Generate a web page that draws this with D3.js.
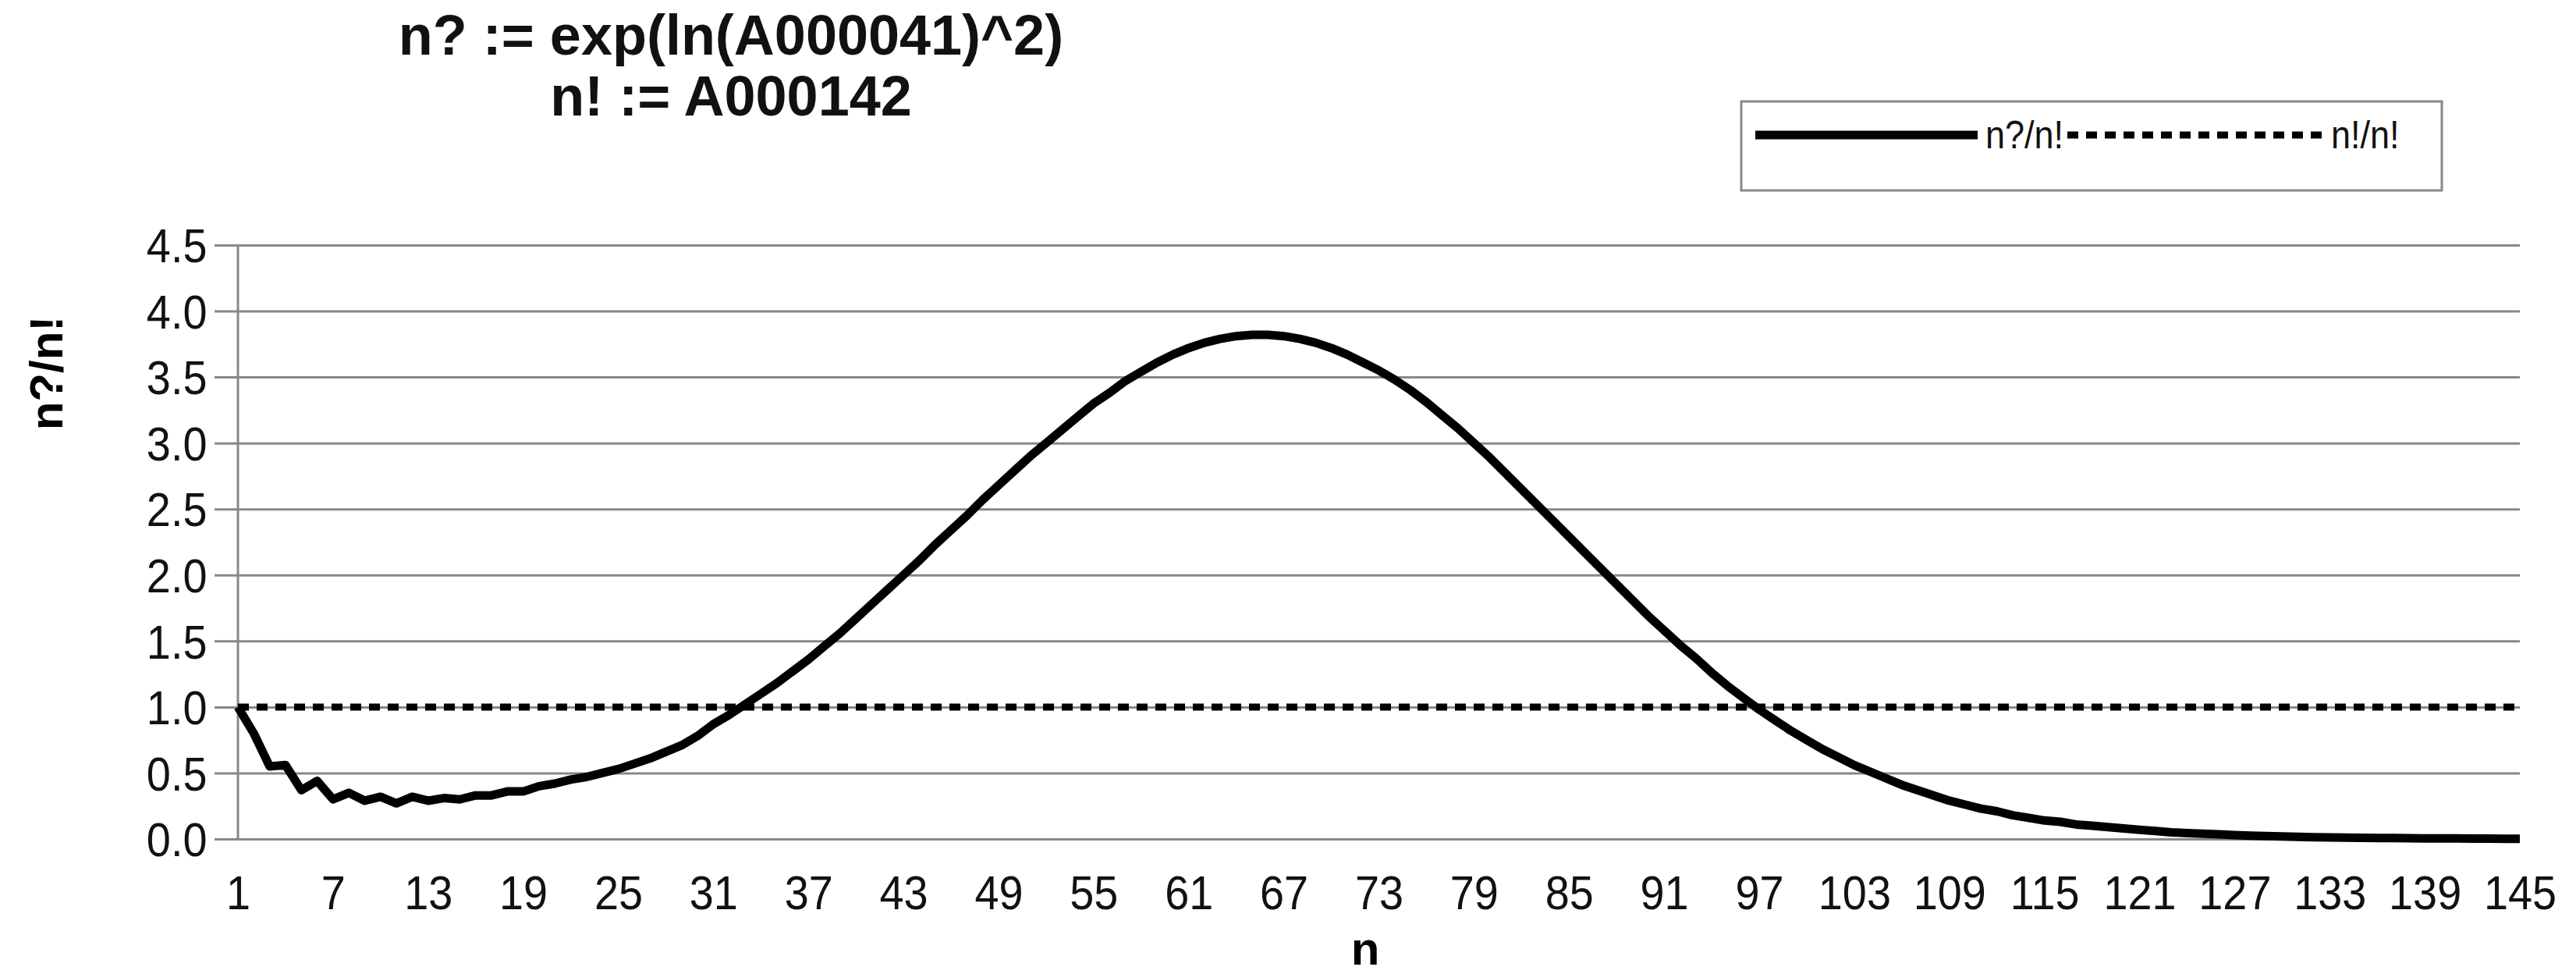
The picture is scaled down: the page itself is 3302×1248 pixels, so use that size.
<!DOCTYPE html>
<html>
<head>
<meta charset="utf-8">
<script src="https://cdn.jsdelivr.net/npm/d3@7"></script>
<style>
  body { margin: 0; background: #fff; }
  text { font-family: "Liberation Sans", Arial, sans-serif; }
</style>
</head>
<body>
<svg id="chart" width="3302" height="1248"></svg>
<script>
// n?/n!, n = 1..145
var ratioValues = [
  1.00, 0.80, 0.55, 0.56, 0.37, 0.44, 0.30, 0.35, 0.29, 0.32,
  0.27, 0.32, 0.29, 0.31, 0.30, 0.33, 0.33, 0.36, 0.36, 0.40,
  0.42, 0.45, 0.47, 0.50, 0.53, 0.57, 0.61, 0.66, 0.71, 0.78,
  0.87, 0.94, 1.02, 1.10, 1.18, 1.27, 1.36, 1.46, 1.56, 1.67,
  1.78, 1.89, 2.00, 2.11, 2.23, 2.34, 2.45, 2.57, 2.68, 2.79,
  2.90, 3.00, 3.10, 3.20, 3.30, 3.38, 3.47, 3.54, 3.61, 3.67,
  3.72, 3.76, 3.79, 3.81, 3.82, 3.82, 3.81, 3.79, 3.76, 3.72,
  3.67, 3.61, 3.55, 3.48, 3.40, 3.31, 3.21, 3.11, 3.00, 2.89,
  2.77, 2.65, 2.53, 2.41, 2.29, 2.17, 2.05, 1.93, 1.81, 1.69,
  1.58, 1.47, 1.37, 1.26, 1.16, 1.07, 0.98, 0.90, 0.82, 0.75,
  0.68, 0.62, 0.56, 0.51, 0.46, 0.41, 0.37, 0.33, 0.29, 0.26,
  0.23, 0.21, 0.18, 0.16, 0.14, 0.13, 0.11, 0.10, 0.09, 0.08,
  0.07, 0.06, 0.05, 0.045, 0.04, 0.035, 0.03, 0.025, 0.022, 0.019,
  0.016, 0.014, 0.012, 0.010, 0.009, 0.008, 0.007, 0.006, 0.005, 0.004,
  0.004, 0.003, 0.003, 0.002, 0.002
];
var nValues = d3.range(1, ratioValues.length + 1);
var xTickValues = d3.range(1, 146, 6);
var yTickValues = [0, 0.5, 1, 1.5, 2, 2.5, 3, 3.5, 4, 4.5];
var titleLines = ["n? := exp(ln(A000041)^2)", "n! := A000142"];
var seriesNames = ["n?/n!", "n!/n!"];

var svg = d3.select("#chart");
var plotLeft = 305, plotRight = 3230, plotTop = 314, plotBottom = 1075;

var xScale = d3.scaleLinear().domain([1, 145]).range([plotLeft, plotRight]);
var yScale = d3.scaleLinear().domain([0, 4.5]).range([plotBottom, plotTop]);

// gridlines + y axis
var yAxis = d3.axisLeft(yScale)
    .tickValues(yTickValues)
    .tickFormat(d3.format(".1f"))
    .tickSize(-(plotRight - plotLeft))
    .tickPadding(44);
var gy = svg.append("g").attr("transform", "translate(" + plotLeft + ",0)").call(yAxis);
gy.select(".domain").remove();
gy.selectAll(".tick line").attr("stroke", "#888").attr("stroke-width", 3).attr("x1", -30);
gy.selectAll(".tick text")
    .attr("font-size", 62).attr("fill", "#111").attr("dy", "0.35em")
    .attr("transform", "scale(0.9,1)");

svg.append("line")
    .attr("x1", plotLeft).attr("x2", plotLeft)
    .attr("y1", plotTop).attr("y2", plotBottom)
    .attr("stroke", "#888").attr("stroke-width", 3);

// x axis labels
var xAxis = d3.axisBottom(xScale).tickValues(xTickValues).tickSize(0).tickPadding(46);
var gx = svg.append("g").attr("transform", "translate(0," + plotBottom + ")").call(xAxis);
gx.select(".domain").remove();
gx.selectAll(".tick text")
    .attr("font-size", 62).attr("fill", "#111")
    .attr("transform", "scale(0.9,1)");

// lines
var line = d3.line()
    .x(function (d, i) { return xScale(nValues[i]); })
    .y(function (d) { return yScale(d); });

svg.append("path")
    .datum(nValues.map(function () { return 1; }))
    .attr("fill", "none")
    .attr("stroke", "#000")
    .attr("stroke-width", 9)
    .attr("stroke-dasharray", "14 10")
    .attr("d", line);

svg.append("path")
    .datum(ratioValues)
    .attr("fill", "none")
    .attr("stroke", "#000")
    .attr("stroke-width", 11)
    .attr("stroke-linejoin", "round")
    .attr("d", line);

// titles
svg.selectAll(".title")
    .data(titleLines)
    .enter()
    .append("text")
    .attr("x", 937)
    .attr("y", function (d, i) { return 70 + i * 78; })
    .attr("text-anchor", "middle")
    .attr("font-size", 72)
    .attr("font-weight", "bold")
    .attr("fill", "#111")
    .text(function (d) { return d; });

svg.append("text")
    .attr("transform", "translate(80,478) rotate(-90)")
    .attr("text-anchor", "middle")
    .attr("font-size", 60)
    .attr("font-weight", "bold")
    .text("n?/n!");

svg.append("text")
    .attr("x", 1750).attr("y", 1236)
    .attr("text-anchor", "middle")
    .attr("font-size", 60)
    .attr("font-weight", "bold")
    .text("n");

// legend
var legend = svg.append("g");
legend.append("rect")
    .attr("x", 2232).attr("y", 130).attr("width", 898).attr("height", 114)
    .attr("fill", "#fff").attr("stroke", "#888").attr("stroke-width", 3);
legend.append("line")
    .attr("x1", 2250).attr("x2", 2535).attr("y1", 173).attr("y2", 173)
    .attr("stroke", "#000").attr("stroke-width", 11);
legend.append("line")
    .attr("x1", 2650).attr("x2", 2980).attr("y1", 173).attr("y2", 173)
    .attr("stroke", "#000").attr("stroke-width", 9).attr("stroke-dasharray", "14 10");
legend.selectAll(".lg")
    .data(seriesNames)
    .enter()
    .append("text")
    .attr("transform", function (d, i) {
        return "translate(" + (i === 0 ? 2545 : 2988) + ",190) scale(0.9,1)";
    })
    .attr("font-size", 50)
    .attr("fill", "#111")
    .text(function (d) { return d; });
</script>
</body>
</html>
